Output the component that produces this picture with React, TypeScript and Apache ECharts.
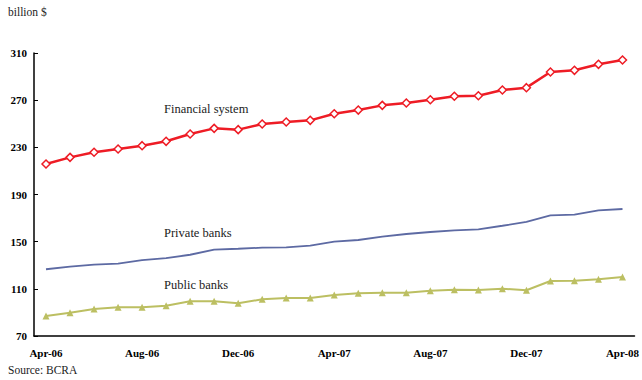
import React, { useEffect, useRef } from "react";
import * as echarts from "echarts";

const months = [
  "Apr-06","May-06","Jun-06","Jul-06","Aug-06","Sep-06","Oct-06","Nov-06","Dec-06",
  "Jan-07","Feb-07","Mar-07","Apr-07","May-07","Jun-07","Jul-07","Aug-07","Sep-07",
  "Oct-07","Nov-07","Dec-07","Jan-08","Feb-08","Mar-08","Apr-08",
];

const financialSystem = [
  215.9, 221.5, 225.8, 228.6, 231.4, 235.1, 241.3, 246.1, 245.0, 249.8, 251.5, 252.9, 258.5,
  261.6, 265.6, 267.6, 270.4, 273.3, 273.8, 278.6, 280.6, 293.9, 295.3, 300.4, 304.1,
];

const privateBanks = [
  126.6, 128.8, 130.5, 131.3, 134.4, 136.1, 138.9, 143.2, 144.0, 144.9, 145.2, 146.6, 150.0,
  151.4, 154.2, 156.5, 158.2, 159.6, 160.5, 163.5, 166.7, 172.3, 172.9, 176.6, 177.7,
];

const publicBanks = [
  87.0, 89.8, 92.9, 94.3, 94.3, 95.7, 99.4, 99.4, 97.7, 101.1, 102.2, 102.2, 104.8,
  106.2, 106.7, 106.7, 108.4, 109.3, 109.0, 110.1, 108.8, 116.6, 116.9, 118.1, 120.0,
];

const yTicks = { min: 70, max: 310, interval: 40 };

const FONT = "Liberation Serif";

export default function App() {
  const ref = useRef<HTMLDivElement>(null);
  useEffect(() => {
    if (!ref.current) return;
    const chart = echarts.init(ref.current, undefined, { renderer: "svg" });
    const txt = (text: string, left: number, top: number, size: number) => ({
      type: "text",
      left,
      top,
      style: { text, font: `${size}px "${FONT}"`, fill: "#222" },
    });
    chart.setOption({
      animation: false,
      backgroundColor: "#ffffff",
      grid: { left: 34, right: 3, top: 53, bottom: 44 },
      xAxis: {
        type: "category",
        data: months,
        boundaryGap: true,
        axisLine: { lineStyle: { color: "#000", width: 1.5 } },
        axisTick: { inside: true, length: 4, interval: 3, lineStyle: { color: "#000" } },
        axisLabel: {
          interval: 3,
          color: "#000",
          fontWeight: "bold",
          fontSize: 11,
          fontFamily: FONT,
          margin: 11,
        },
        splitLine: { show: false },
      },
      yAxis: {
        type: "value",
        min: yTicks.min,
        max: yTicks.max,
        interval: yTicks.interval,
        axisLine: { show: true, lineStyle: { color: "#000", width: 1.5 } },
        axisTick: { show: true, inside: true, length: 4, lineStyle: { color: "#000" } },
        axisLabel: {
          color: "#000",
          fontWeight: "bold",
          fontSize: 11,
          fontFamily: FONT,
          margin: 7,
        },
        splitLine: { show: false },
      },
      series: [
        {
          name: "Financial system",
          type: "line",
          data: financialSystem,
          symbol: "diamond",
          symbolSize: 8,
          lineStyle: { color: "#ee1c25", width: 2.5 },
          itemStyle: { color: "#ffffff", borderColor: "#ee1c25", borderWidth: 1.5 },
          z: 3,
        },
        {
          name: "Private banks",
          type: "line",
          data: privateBanks,
          symbol: "none",
          lineStyle: { color: "#5d6aa3", width: 1.8 },
          itemStyle: { color: "#5d6aa3" },
        },
        {
          name: "Public banks",
          type: "line",
          data: publicBanks,
          symbol: "triangle",
          symbolSize: 7,
          lineStyle: { color: "#bcbf62", width: 2 },
          itemStyle: { color: "#bcbf62" },
        },
      ],
      graphic: [
        txt("billion $", 8, 6, 11.5),
        txt("Source: BCRA", 8, 364, 11.5),
        txt("Financial system", 164, 102, 12.5),
        txt("Private banks", 164, 226, 12.5),
        txt("Public banks", 164, 278, 12.5),
      ],
    });
    return () => chart.dispose();
  }, []);
  return (
    <div
      ref={ref}
      style={{ position: "fixed", left: 0, top: 0, width: 642, height: 380 }}
    />
  );
}
